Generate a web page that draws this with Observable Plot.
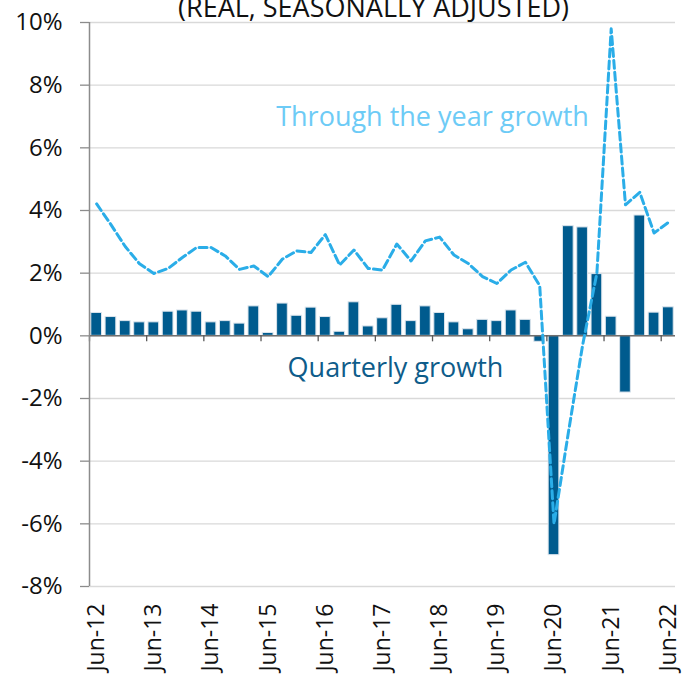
<!DOCTYPE html>
<html>
<head>
<meta charset="utf-8">
<script src="https://cdn.jsdelivr.net/npm/d3@7"></script>
<script src="https://cdn.jsdelivr.net/npm/@observablehq/plot@0.6"></script>
<style>
  html, body { margin: 0; padding: 0; background: #fff; }
  svg { display: block; }
</style>
</head>
<body>
<div id="chart"></div>
<script>
// ---- Data ----
const quarters = [
  "Jun-12","Sep-12","Dec-12","Mar-13","Jun-13","Sep-13","Dec-13","Mar-14",
  "Jun-14","Sep-14","Dec-14","Mar-15","Jun-15","Sep-15","Dec-15","Mar-16",
  "Jun-16","Sep-16","Dec-16","Mar-17","Jun-17","Sep-17","Dec-17","Mar-18",
  "Jun-18","Sep-18","Dec-18","Mar-19","Jun-19","Sep-19","Dec-19","Mar-20",
  "Jun-20","Sep-20","Dec-20","Mar-21","Jun-21","Sep-21","Dec-21","Mar-22","Jun-22"
];
const quarterlyGrowth = [
  0.73, 0.60, 0.47, 0.43, 0.43, 0.77, 0.81, 0.77,
  0.43, 0.47, 0.39, 0.94, 0.09, 1.03, 0.64, 0.90,
  0.60, 0.13, 1.07, 0.30, 0.56, 0.99, 0.47, 0.94,
  0.73, 0.43, 0.21, 0.51, 0.47, 0.81, 0.51, -0.19,
  -7.00, 3.50, 3.46, 1.97, 0.61, -1.81, 3.84, 0.74, 0.91
];
const throughYearGrowth = [
  4.21, 3.55, 2.85, 2.30, 1.99, 2.15, 2.50, 2.82,
  2.82, 2.55, 2.12, 2.23, 1.89, 2.45, 2.71, 2.66,
  3.23, 2.26, 2.74, 2.15, 2.10, 2.93, 2.39, 3.03,
  3.15, 2.58, 2.31, 1.89, 1.67, 2.10, 2.35, 1.60,
  -6.00, -3.10, -0.30, 2.00, 9.80, 4.18, 4.58, 3.28, 3.62
];
const yTicks = [-8, -6, -4, -2, 0, 2, 4, 6, 8, 10];
const xTickLabels = ["Jun-12","Jun-13","Jun-14","Jun-15","Jun-16","Jun-17","Jun-18","Jun-19","Jun-20","Jun-21","Jun-22"];
const titleText = "(REAL, SEASONALLY ADJUSTED)";
const lineLabel = "Through the year growth";
const barLabel = "Quarterly growth";

// ---- Build table ----
const data = quarters.map((q, i) => ({q, qg: quarterlyGrowth[i], ty: throughYearGrowth[i]}));

const W = 693, H = 675, mL = 89, mR = 18, mT = 22, mB = 89;
const bw = (W - mL - mR) / quarters.length;

const chart = Plot.plot({
  width: W,
  height: H,
  marginLeft: mL,
  marginRight: mR,
  marginTop: mT,
  marginBottom: mB,
  style: {fontFamily: "'Open Sans', sans-serif", fontSize: "22px", color: "#111", background: "#fff", overflow: "visible"},
  x: {type: "band", domain: quarters, padding: 0, round: false, axis: null, label: null},
  y: {domain: [-8, 10], axis: null, label: null},
  marks: [
    Plot.gridY(yTicks, {stroke: "#d9d9d9", strokeOpacity: 1, strokeWidth: 1.3}),
    Plot.barY(data, {x: "q", y: "qg", fill: "#005B8E", stroke: "#dbe4ec", strokeWidth: 1, insetLeft: 1.8, insetRight: 1.8}),
    Plot.ruleY([0], {stroke: "#6f6f6f", strokeWidth: 1.5}),
    Plot.ruleX(xTickLabels, {x: d => d, y1: 0, y2: 0, insetBottom: -6, dx: -bw / 2, stroke: "#595959", strokeWidth: 1.3}),
    Plot.ruleX([quarters[0]], {x: d => d, dx: -bw / 2, stroke: "#8c8c8c", strokeWidth: 1.5}),
    Plot.axisY({anchor: "left", ticks: yTicks, tickSize: 9, tickPadding: 18, tickFormat: d => d + "%", stroke: "#8c8c8c", strokeWidth: 1.3, fontSize: 24, label: null}),
    Plot.axisX({ticks: xTickLabels, tickSize: 0, tickPadding: 17, tickRotate: -90, fontSize: 23, label: null}),
    Plot.line(data, {x: "q", y: "ty", stroke: "#2AADE8", strokeWidth: 3, strokeDasharray: "8,4"}),
    Plot.text([titleText], {frameAnchor: "top", dx: -9, dy: -14, lineAnchor: "middle", fontSize: 27, fill: "#111"}),
    Plot.text([lineLabel], {frameAnchor: "top-left", dx: 343, dy: 95, lineAnchor: "middle", textAnchor: "middle", fontSize: 27, fill: "#6DCBF6"}),
    Plot.text([barLabel], {frameAnchor: "top-left", dx: 306, dy: 346, lineAnchor: "middle", textAnchor: "middle", fontSize: 27, fill: "#0E5C8A"})
  ]
});
document.getElementById("chart").append(chart);
</script>
</body>
</html>
